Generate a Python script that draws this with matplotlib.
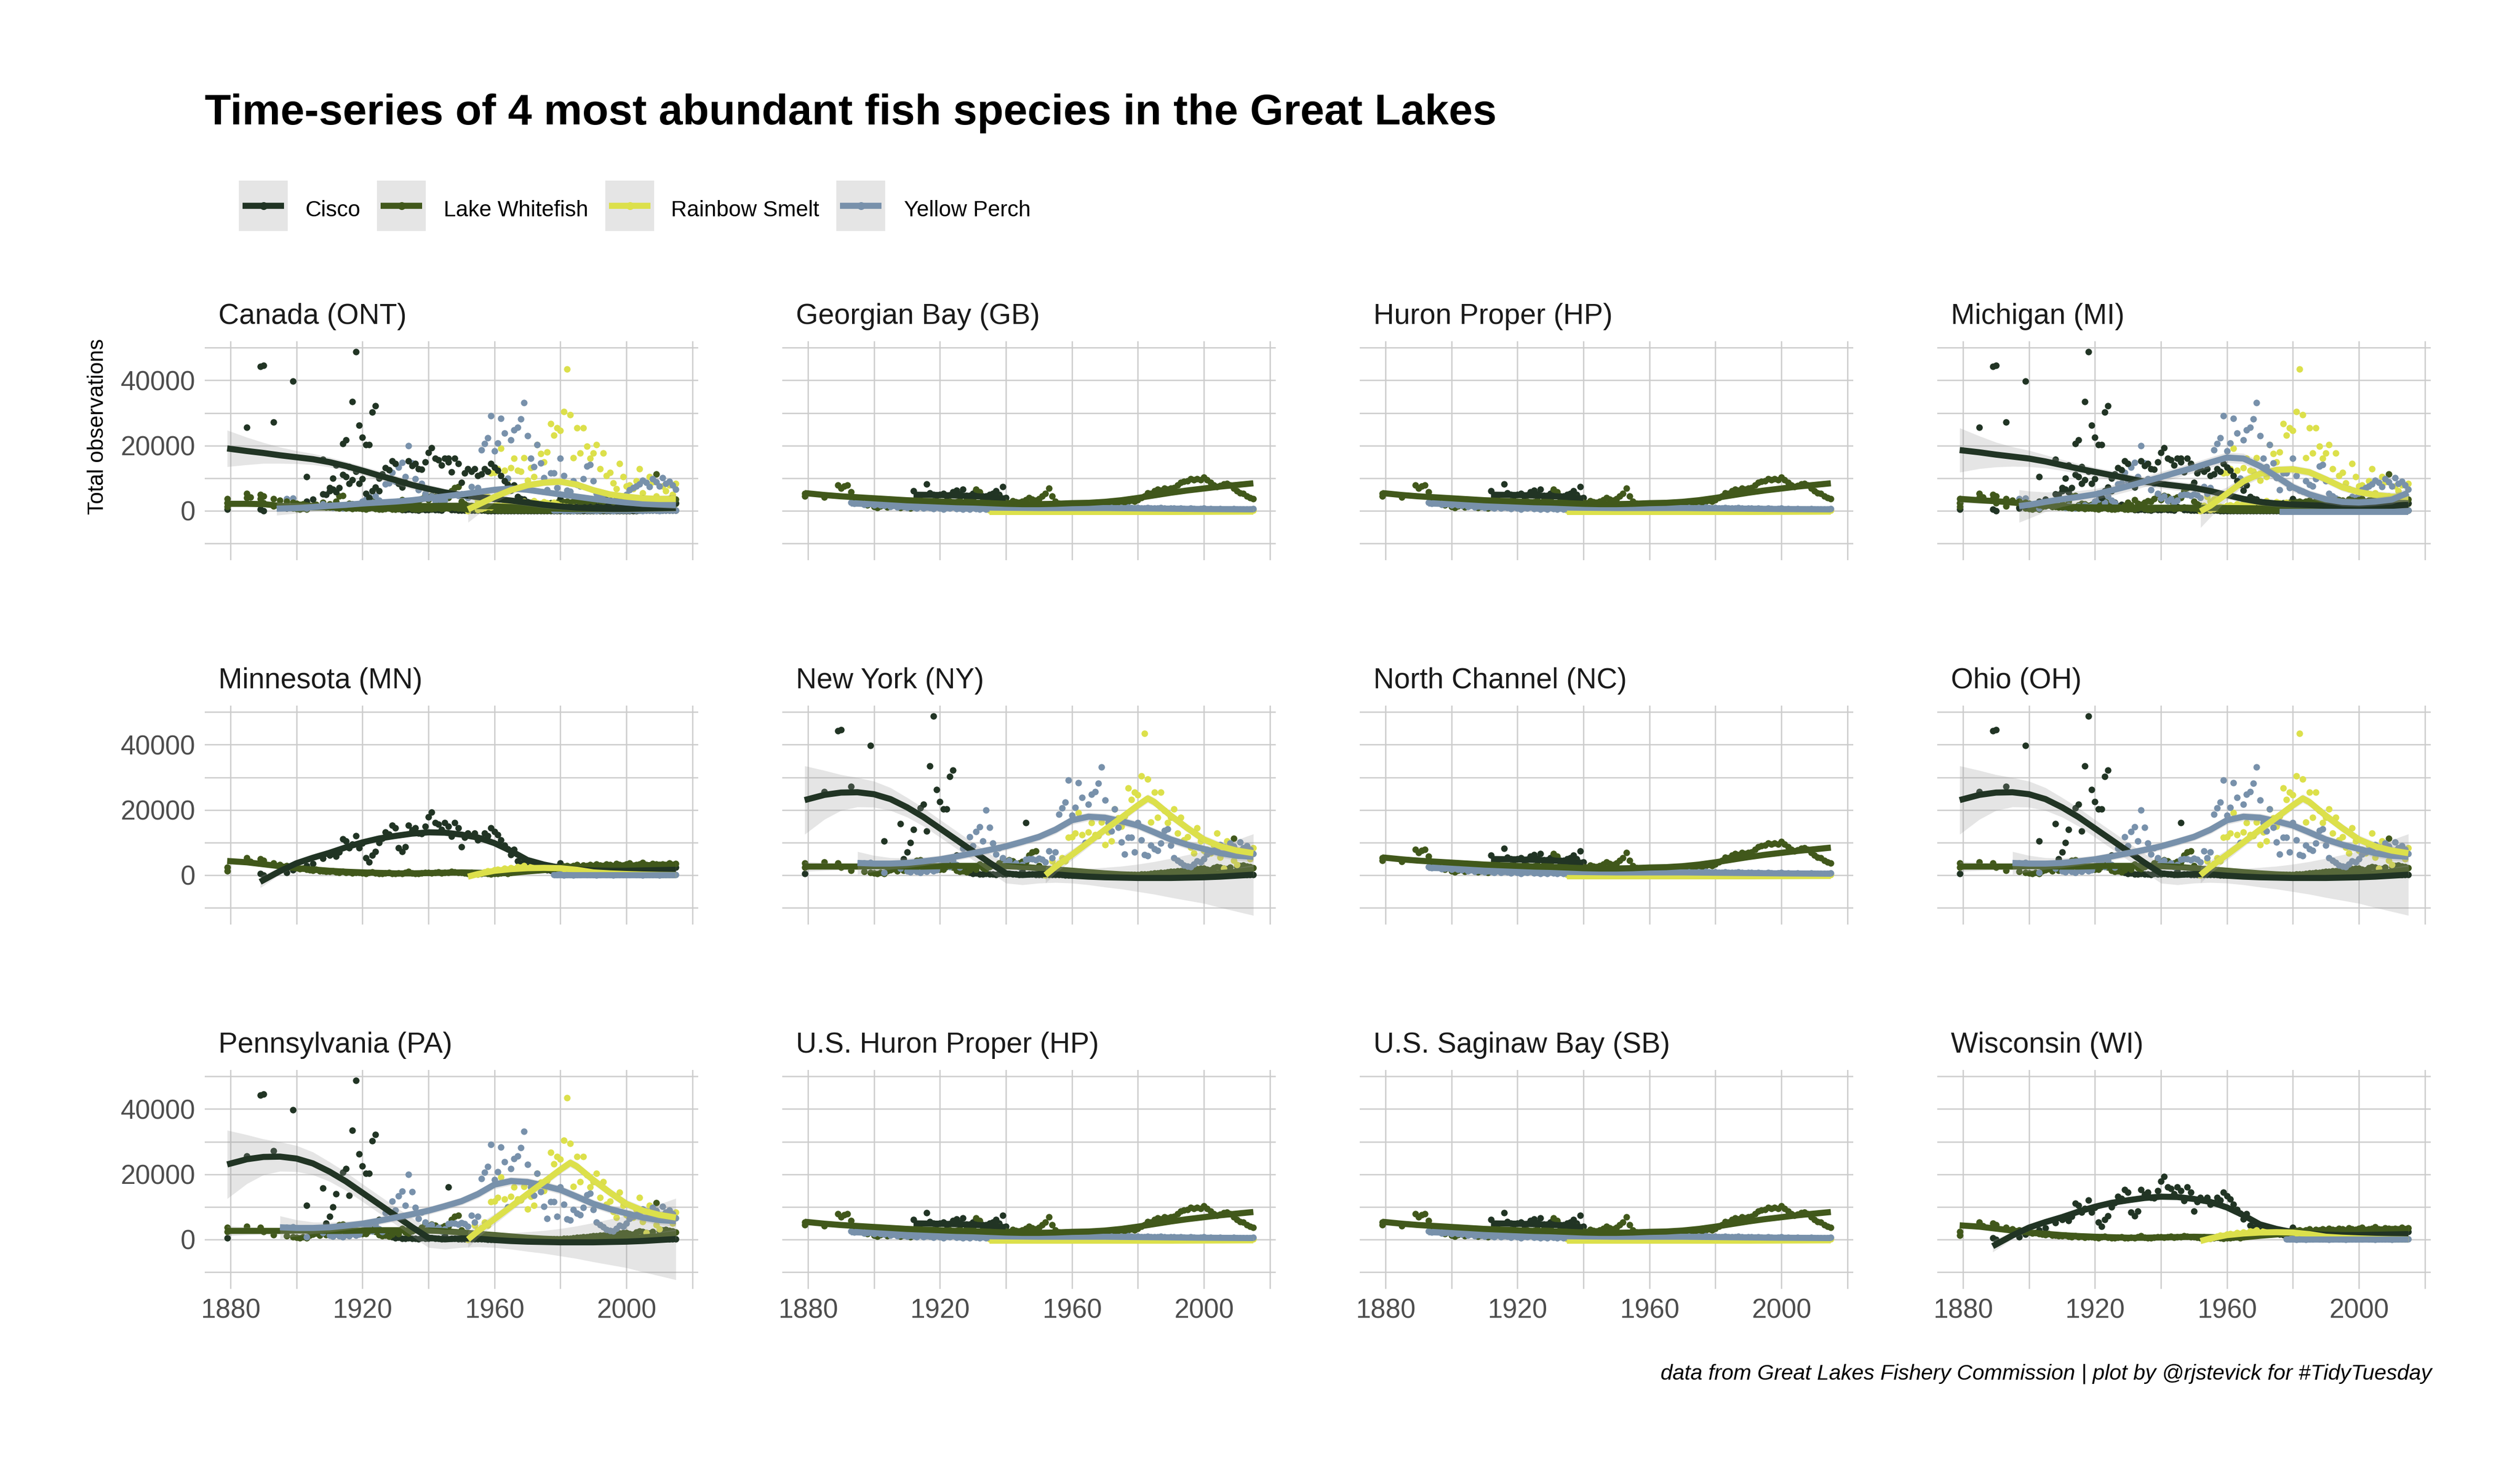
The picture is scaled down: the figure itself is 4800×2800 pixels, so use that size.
import numpy as np
import matplotlib
matplotlib.use('Agg')
import matplotlib.pyplot as plt
from matplotlib import font_manager
from matplotlib.lines import Line2D
from matplotlib.patches import Rectangle

# fonts: an Arial-like face, sized to the widths of the original narrow font
_names = {f.name for f in font_manager.fontManager.ttflist}
if 'Liberation Sans Narrow' in _names:
    FONT, K = 'Liberation Sans Narrow', 1.0
elif 'Liberation Sans' in _names:
    FONT, K = 'Liberation Sans', 0.82
else:
    FONT, K = 'DejaVu Sans', 0.77
plt.rcParams['font.family'] = [FONT, 'DejaVu Sans']

SPECIES = ['Cisco', 'Lake Whitefish', 'Rainbow Smelt', 'Yellow Perch']
COLORS = ['#213424', '#41581b', '#dce04b', '#7891ab']
REGIONS = ['Canada (ONT)', 'Georgian Bay (GB)', 'Huron Proper (HP)', 'Michigan (MI)',
           'Minnesota (MN)', 'New York (NY)', 'North Channel (NC)', 'Ohio (OH)',
           'Pennsylvania (PA)', 'U.S. Huron Proper (HP)', 'U.S. Saginaw Bay (SB)', 'Wisconsin (WI)']

# ---------------- observed points ----------------
# Lake Erie waters (NY, OH, PA)
ERIE_CISCO_YEARS = [1879, 1885, 1889, 1890, 1893, 1899, 1903, 1908, 1909, 1910, 1911, 1912, 1914,
                    1915, 1916, 1917, 1918, 1919, 1920, 1921, 1922, 1923, 1924, 1925] + list(range(1926, 2016))
ERIE_CISCO = [500, 25500, 44300, 44600, 27200, 39700, 10400, 15800, 4900, 7000, 9900, 13900, 20600,
              21700, 13500, 33500, 48800, 26200, 22500, 20300, 20300, 30200, 32100, 6000,
              2600, 1400, 1900, 700, 400, 600, 300, 200, 500, 300,
              200, 150, 400, 300, 200, 500, 300, 200, 100, 1200,
              16100, 300, 200, 100, 100, 80, 60, 50, 50, 40,
              30, 30, 20, 20, 20, 10, 10, 10, 10, 10,
              10, 10, 10, 10, 10, 10, 10, 10, 10, 10,
              10, 10, 10, 10, 10, 10, 10, 10, 10, 10,
              10, 10, 10, 10, 10, 10, 10, 10, 10, 10,
              10, 10, 10, 10, 10, 20, 20, 20, 30, 30,
              40, 50, 60, 80, 100, 140, 120, 90, 60, 50]
ERIE_WHITEFISH_YEARS = [1879, 1879, 1885, 1889, 1890, 1893, 1897, 1899] + list(range(1900, 2016))
ERIE_WHITEFISH = [3600, 2300, 3900, 3700, 2400, 1400, 1000, 800,
                  600, 450, 800, 400, 1200, 1500, 1900, 1300, 2500, 1400,
                  2000, 1600, 2800, 4500, 4600, 1800, 2200, 2100, 1500, 1900,
                  1700, 1800, 2600, 3200, 2400, 1400, 1000, 1300, 900, 1500,
                  2500, 1800, 3400, 2200, 1900, 2500, 3000, 2800, 3600, 4900,
                  3300, 4600, 4300, 3000, 3700, 4200, 3900, 6000, 7100, 7400,
                  2800, 2000, 1600, 1200, 900, 700, 500, 420, 300, 280,
                  220, 160, 140, 110, 100, 90, 80, 75, 60, 60,
                  50, 50, 40, 45, 40, 50, 60, 80, 95, 120,
                  150, 210, 240, 320, 380, 520, 580, 690, 820, 900,
                  1050, 1080, 1250, 1300, 1420, 1500, 1650, 1700, 1850, 2000,
                  2100, 1800, 1600, 2200, 2500, 2300, 2000, 1900, 2400, 11200,
                  2600, 2800, 3000, 2700, 2500, 2200]
ERIE_SMELT_YEARS = list(range(1952, 2016))
ERIE_SMELT = [0, 1500, 4300, 2800, 3500, 5200, 4300, 11500, 11700, 12900,
              19200, 12300, 9600, 13100, 16000, 12300, 12000, 16300, 9300, 13100,
              10400, 20300, 17500, 15000, 18000, 26700, 23200, 25400, 24600, 30400,
              43500, 29500, 16300, 25400, 17600, 25400, 19800, 16000, 17600, 20300,
              12800, 17600, 10700, 11700, 8500, 6700, 14400, 10400, 7500, 7800,
              6700, 9200, 12800, 5400, 2100, 10400, 8800, 4500, 3200, 7500,
              6000, 7800, 5000, 8300]
ERIE_PERCH_YEARS = [1897, 1899, 1903, 1908] + list(range(1910, 2016))
ERIE_PERCH = [3600, 3800, 700, 2000,
              1200, 900, 1500, 1100, 800, 1400, 1000, 1700, 1200, 1500,
              2800, 3500, 4300, 2600, 4500, 3200, 2400, 8200, 8500, 11700,
              9000, 13300, 14700, 10500, 19900, 14600, 9800, 6400, 8300, 5200,
              3800, 4500, 3000, 3600, 2500, 3100, 4800, 5000, 4900, 4600,
              5100, 4800, 3900, 7300, 5200, 7100, 18700, 20600, 22400, 29100,
              18300, 20800, 28300, 23800, 9900, 21700, 24800, 25600, 28200, 33100,
              23000, 16000, 13500, 20200, 14600, 10100, 6400, 11500, 11600, 7000,
              16000, 10700, 6300, 5900, 9100, 8000, 7500, 9800, 13600, 14100,
              9100, 5300, 4400, 3800, 3000, 2700, 2500, 3400, 4300, 3900,
              5000, 6400, 7000, 7600, 8200, 9300, 8600, 7400, 9800, 8800,
              7600, 10100, 8300, 9000, 7800, 6600]

# Lake Superior waters (MN, WI)
SUP_CISCO_YEARS = [1889, 1890, 1897, 1899, 1903, 1905, 1908] + list(range(1910, 2016))
SUP_CISCO = [500, 0, 800, 1500, 2800, 3500, 5100,
             6000, 6500, 5800, 7000, 11000, 10400, 8300, 9500, 12000, 8300,
             9800, 5300, 4000, 6100, 7200, 9900, 11200, 13100, 12500, 15200,
             14400, 8300, 7200, 8600, 15200, 13800, 14400, 12900, 12600, 15000,
             17900, 19300, 16000, 15500, 14000, 16000, 15000, 11800, 16000, 14400,
             8600, 11500, 12800, 12000, 12800, 10700, 11200, 12800, 12000, 14400,
             13400, 12300, 10700, 9100, 8000, 6200, 7800, 4300, 3600, 3500,
             2700, 2500, 2300, 2000, 1800, 1700, 1500, 1400, 1300, 2000,
             3700, 1200, 1300, 1400, 1500, 1300, 1200, 1400, 1300, 1500,
             1600, 1400, 1500, 1700, 1600, 1500, 1400, 1600, 1800, 1700,
             1500, 1800, 1600, 2000, 1900, 1700, 1600, 2100, 2200, 1900,
             1800, 2000, 2300, 2100, 1800, 2400]
SUP_WHITEFISH_YEARS = [1879, 1879, 1885, 1886, 1889, 1890, 1893, 1895, 1897, 1899] + list(range(1900, 2016))
SUP_WHITEFISH = [2400, 1200, 5300, 4200, 5000, 4500, 3600, 3200, 2800, 2500,
                 2200, 1900, 2100, 1700, 1600, 1400, 1800, 1300, 1200, 1100,
                 1000, 1300, 900, 800, 1100, 700, 900, 600, 800, 700,
                 600, 500, 700, 900, 600, 400, 500, 600, 700, 500,
                 400, 600, 500, 700, 1000, 600, 500, 400, 600, 700,
                 800, 600, 700, 900, 600, 800, 700, 1100, 900, 800,
                 700, 600, 500, 700, 400, 300, 500, 600, 400, 300,
                 400, 500, 600, 700, 500, 800, 900, 1000, 1300, 1200,
                 1400, 1600, 1500, 1800, 2000, 1900, 2200, 2400, 2100, 2500,
                 2300, 2700, 2900, 2500, 2800, 3100, 2600, 3000, 2800, 3200,
                 2900, 3300, 3000, 2800, 3400, 3100, 2700, 3500, 3200, 3000,
                 3300, 3600, 2900, 3100, 3400, 3800, 3200, 3000, 3500, 3300,
                 3100, 3400, 3000, 3600, 3200, 3500]
SUP_SMELT_YEARS = list(range(1955, 1996))
SUP_SMELT = [300, 600, 900, 1200, 1000, 1500, 1800, 1400, 2000, 1700,
             2200, 1900, 2500, 2300, 2800, 2100, 2600, 3000, 2400, 2200,
             2700, 2300, 1900, 2500, 2000, 1600, 1400, 1200, 900, 1000,
             800, 600, 700, 500, 400, 500, 300, 400, 200, 300,
             200]
SUP_PERCH_YEARS = list(range(1978, 2016))
SUP_PERCH = [100, 50, 200, 0, 100, 150, 0, 50, 100, 200,
             150, 100, 50, 0, 100, 200, 100, 50, 0, 100,
             150, 100, 50, 100, 200, 100, 50, 0, 100, 150,
             50, 100, 0, 50, 100, 150, 100, 50]

# Lake Huron waters (GB, HP, NC, US HP, SB)
HUR_CISCO_YEARS = [1912, 1914] + list(range(1916, 1941))
HUR_CISCO = [6000, 4800, 8100, 5500, 5000, 4600, 4900, 5200, 4500, 4800,
             5700, 6300, 5100, 6500, 4600, 4700, 5200, 6300, 4800, 4400,
             4500, 5000, 5300, 6000, 5000, 7300, 4000]
HUR_WHITEFISH_YEARS = [1879, 1879, 1885, 1889, 1890, 1891, 1892, 1893, 1894, 1896, 1898] + list(range(1900, 2016))
HUR_WHITEFISH = [4400, 5300, 4100, 7900, 6900, 7600, 7900, 5700, 3900, 2500, 1700,
                 1200, 900, 1400, 1800, 1100, 1600, 2000, 1500, 900, 1300,
                 1700, 800, 1200, 1500, 2200, 1800, 1400, 2600, 2200, 1900,
                 2300, 2000, 2600, 2900, 2400, 2700, 3100, 2500, 3300, 3000,
                 3500, 6500, 5800, 3200, 4100, 3600, 2800, 3400, 3900, 3000,
                 2600, 2300, 3000, 2700, 2500, 2900, 3300, 3900, 3500, 3100,
                 3600, 4400, 5300, 6800, 4400, 2800, 2200, 2000, 1900, 2100,
                 1800, 1700, 1900, 2000, 1800, 1600, 1900, 2100, 2300, 2200,
                 2400, 2300, 2600, 2500, 2700, 2900, 2600, 2800, 3100, 2800,
                 3300, 3900, 4500, 5500, 5200, 6000, 6500, 6300, 6800, 6600,
                 6900, 7100, 7900, 8700, 8900, 9200, 9700, 9500, 9700, 9500,
                 10300, 9500, 8700, 7900, 7300, 7700, 8100, 8300, 7900, 6800,
                 6000, 5500, 5200, 4400, 4000, 3600]
HUR_SMELT_YEARS = list(range(1935, 2016, 2))
HUR_SMELT = [100, 0, 200, 100, 0, 150, 100, 50, 200, 100,
             0, 100, 150, 50, 100, 0, 200, 100, 50, 100,
             150, 0, 100, 50, 200, 100, 0, 150, 100, 50,
             100, 0, 150, 100, 50, 200, 100, 0, 100, 50,
             100]
HUR_PERCH_YEARS = list(range(1893, 2016))
HUR_PERCH = [2600, 2200, 2800, 2400, 1900, 2100, 2500, 1800, 2200, 1700,
             1500, 1900, 1300, 1600, 1100, 1400, 1200, 900, 1300, 1000,
             800, 1200, 700, 1000, 900, 600, 1100, 800, 500, 900,
             700, 1000, 600, 800, 500, 700, 400, 900, 600, 500,
             700, 400, 600, 800, 500, 900, 700, 600, 800, 1000,
             900, 700, 800, 1000, 900, 800, 1100, 900, 1000, 800,
             900, 1000, 1100, 900, 800, 1000, 900, 800, 700, 900,
             800, 900, 1000, 700, 800, 900, 1000, 800, 700, 900,
             800, 700, 900, 800, 1000, 900, 800, 900, 700, 800,
             900, 800, 700, 800, 900, 700, 600, 800, 700, 600,
             700, 600, 500, 700, 600, 500, 600, 700, 500, 600,
             500, 400, 600, 500, 400, 500, 600, 400, 500, 400,
             500, 400, 600]

# ---------------- smoothed trends (value, half-width of band) ----------------
SY = [1879, 1885, 1890, 1895, 1900, 1905, 1910, 1915, 1920, 1925, 1930, 1935, 1940, 1945,
      1950, 1955, 1960, 1965, 1970, 1975, 1980, 1985, 1990, 1995, 2000, 2005, 2010, 2015]
SMELT_SY = [1952, 1955, 1960, 1965, 1970, 1975, 1980, 1985, 1990, 1995, 2000, 2005, 2010, 2015]

CAN_CISCO = [19100, 18300, 17700, 17000, 16400, 15800, 14900, 13700, 12300, 10800, 9400, 7900, 6700, 5600,
             4800, 4200, 3600, 3100, 2500, 1800, 1300, 900, 700, 600, 600, 700, 800, 900]
CAN_CISCO_SE = [5600, 4200, 3200, 2500, 2000, 1700, 1500, 1400, 1400, 1400, 1400, 1400, 1300, 1200,
                1100, 1000, 1000, 1000, 1000, 1000, 1000, 1000, 1000, 1000, 1000, 1100, 1200, 1400]
CAN_WHITEFISH = [2100, 2100, 2000, 1500, 1100, 1000, 1000, 1100, 1200, 1300, 1300, 1400, 1400, 1500,
                 1500, 1400, 1300, 1100, 900, 700, 600, 500, 500, 500, 500, 600, 700, 800]
CAN_WHITEFISH_SE = [900, 800, 700, 600, 600, 600, 600, 600, 600, 600, 600, 600, 600, 600,
                    600, 600, 600, 600, 600, 600, 600, 600, 600, 600, 600, 600, 700, 800]
CAN_PERCH_YEARS = [1894] + SY[4:]
CAN_PERCH = [600, 800, 1100, 1500, 1800, 2200, 2500, 2800, 3200, 3800, 4400, 5000, 5700,
             6400, 6800, 6400, 5700, 5000, 4300, 3600, 3000, 2500, 2100, 1900, 1700]
CAN_PERCH_SE = [2000, 1600, 1200, 1000, 900, 800, 800, 800, 800, 800, 800, 800, 800,
                800, 800, 800, 800, 800, 800, 800, 800, 800, 900, 1000, 1100]
CAN_SMELT = [400, 1800, 4200, 6300, 7800, 8600, 8900, 8000, 6300, 5000, 4300, 3800, 3600, 3600]
CAN_SMELT_SE = [4000, 3000, 1800, 1300, 1100, 1000, 1000, 1000, 1000, 1000, 1000, 1000, 1100, 1300]

MI_CISCO = [18600, 17900, 17200, 16600, 16000, 15100, 14000, 12900, 11900, 10900, 9900, 8900, 8200, 7600,
            7000, 6000, 4800, 3600, 2700, 2200, 1900, 1700, 1500, 1400, 1300, 1300, 1500, 1800]
MI_CISCO_SE = [6800, 5000, 3800, 3000, 2500, 2000, 1700, 1500, 1400, 1400, 1400, 1400, 1400, 1400,
               1400, 1300, 1200, 1100, 1000, 1000, 1000, 1000, 1000, 1000, 1000, 1100, 1300, 1500]
MI_WHITEFISH = [3600, 3200, 2900, 2500, 2000, 1600, 1300, 1100, 1000, 950, 900, 900, 900, 900,
                900, 850, 800, 750, 700, 750, 800, 1000, 1200, 1500, 1800, 2200, 2600, 3000]
MI_WHITEFISH_SE = [1200, 1000, 800, 700, 600, 600, 600, 600, 600, 600, 600, 600, 600, 600,
                   600, 600, 600, 600, 600, 600, 600, 600, 600, 600, 700, 800, 900, 1100]
MI_PERCH_YEARS = [1897] + SY[4:]
MI_PERCH = [1400, 1800, 2700, 3500, 4200, 5000, 6200, 7500, 8900, 10300, 11800, 13200, 14800,
            16300, 16000, 13700, 10500, 7200, 5000, 3500, 2700, 2500, 2800, 3400, 5500]
MI_PERCH_SE = [5000, 4200, 3000, 2300, 1900, 1700, 1600, 1600, 1600, 1600, 1600, 1600, 1600,
               1600, 1600, 1600, 1500, 1400, 1300, 1300, 1300, 1300, 1300, 1400, 1800]
MI_SMELT = [-200, 1500, 5200, 9000, 11300, 12500, 12700, 11800, 9600, 7200, 5700, 4800, 4300, 4200]
MI_SMELT_SE = [5000, 3500, 2000, 1500, 1300, 1200, 1200, 1200, 1200, 1200, 1200, 1200, 1300, 1500]
MI_PERCH_FLAT_YEARS = [1976, 1990, 2000, 2015]
MI_PERCH_FLAT = [-300, -300, -300, -300]
MI_PERCH_FLAT_SE = [900, 600, 600, 900]

ERIE_CISCO_S = [23000, 24600, 25300, 25400, 24800, 23300, 20800, 17800, 14300, 10800, 7300, 3800, 500, 0,
                300, 200, -200, -500, -700, -800, -900, -900, -900, -800, -700, -500, -200, 100]
ERIE_CISCO_SE = [10500, 7500, 5500, 4500, 4000, 3500, 3000, 2800, 2700, 2700, 2700, 2800, 3000, 3000,
                 2800, 2500, 2300, 2500, 3000, 3500, 4200, 5000, 6000, 7000, 8000, 9500, 11000, 12500]
ERIE_WHITEFISH_S = [2600, 2600, 2600, 2600, 2700, 2700, 2600, 2600, 2700, 2800, 2800, 2800, 2700, 2500,
                    2100, 1700, 1300, 900, 500, 200, 0, -100, 0, 100, 300, 600, 1000, 1600]
ERIE_WHITEFISH_SE = [1500, 1200, 1000, 900, 800, 800, 800, 800, 800, 800, 800, 800, 800, 800,
                     800, 800, 800, 800, 800, 800, 800, 800, 800, 800, 900, 1000, 1200, 1500]
ERIE_PERCH_S_YEARS = [1895] + SY[4:]
ERIE_PERCH_S = [3700, 3500, 3500, 3700, 4200, 4800, 5700, 6700, 7700, 8800, 10200, 11700, 13900,
                16800, 17900, 17600, 16500, 15200, 13100, 10900, 9300, 8000, 6700, 5900, 5600]
ERIE_PERCH_SE = [3500, 2500, 1800, 1500, 1300, 1200, 1200, 1200, 1200, 1200, 1200, 1200, 1300,
                 1300, 1300, 1300, 1300, 1300, 1300, 1300, 1300, 1300, 1300, 1400, 1600]
ERIE_SMELT_S_YEARS = [1952, 1955, 1960, 1965, 1970, 1975, 1980, 1983, 1985, 1990, 1995, 2000, 2005, 2010, 2015]
ERIE_SMELT_S = [0, 2500, 6200, 10000, 13900, 17600, 21400, 23500, 22400, 18200, 14400, 10900, 8800, 7500, 6700]
ERIE_SMELT_SE = [2500, 2000, 1600, 1400, 1300, 1300, 1300, 1300, 1300, 1300, 1300, 1300, 1300, 1400, 1600]

SUP_CISCO_S_YEARS = [1889, 1895] + SY[4:]
SUP_CISCO_S = [-2100, 1200, 3600, 5300, 6800, 8500, 10000, 11200, 12000, 12700, 13100, 13000, 12400,
               11500, 9800, 7400, 4600, 3200, 2200, 1700, 1400, 1300, 1300, 1400, 1500, 1600]
SUP_CISCO_SE = [1800, 1100, 900, 800, 700, 700, 700, 700, 700, 700, 700, 700, 700,
                700, 700, 700, 700, 700, 700, 700, 700, 700, 700, 700, 700, 900]
SUP_WHITEFISH_S = [4300, 3900, 3300, 2700, 2100, 1700, 1300, 1000, 800, 650, 500, 500, 600, 700,
                   800, 700, 500, 600, 1100, 1500, 2100, 2400, 2700, 2800, 2900, 3000, 3100, 3200]
SUP_WHITEFISH_SE = [900, 700, 600, 500, 500, 500, 500, 500, 500, 500, 500, 500, 500, 500,
                    500, 500, 500, 500, 500, 500, 500, 500, 500, 500, 500, 500, 600, 700]
SUP_SMELT_S = [-500, 300, 1300, 1800, 2100, 2200, 2100, 1600, 800, 500, 300, 150, 50, 0]
SUP_SMELT_SE = [900, 700, 500, 500, 500, 500, 500, 500, 500, 500, 500, 500, 500, 600]
SUP_PERCH_S_YEARS = [1978, 1990, 2000, 2015]
SUP_PERCH_S = [0, 0, 0, 0]
SUP_PERCH_SE = [300, 200, 200, 300]

HUR_WHITEFISH_S = [5400, 4800, 4400, 4100, 3800, 3500, 3200, 3000, 2800, 2600, 2500, 2300, 2100, 2000,
                   2000, 2100, 2300, 2400, 2700, 3200, 3900, 4700, 5500, 6200, 6800, 7400, 7900, 8400]
HUR_WHITEFISH_SE = [900, 700, 600, 500, 500, 500, 500, 500, 500, 500, 500, 500, 500, 500,
                    500, 500, 500, 500, 500, 500, 500, 500, 500, 500, 500, 600, 700, 800]
HUR_CISCO_S_YEARS = [1912, 1920, 1930, 1935, 1940]
HUR_CISCO_S = [4900, 4800, 4500, 4200, 3700]
HUR_CISCO_SE = [700, 500, 500, 500, 700]
HUR_PERCH_S_YEARS = [1893, 1900, 1910, 1920, 1930, 1940, 1950, 1960, 1970, 1980, 1990, 2000, 2015]
HUR_PERCH_S = [2200, 2000, 1500, 1200, 1000, 900, 800, 800, 800, 700, 600, 500, 400]
HUR_PERCH_SE = [600, 400, 300, 300, 300, 300, 300, 300, 300, 300, 300, 300, 400]
HUR_SMELT_S_YEARS = [1935, 1960, 1990, 2015]
HUR_SMELT_S = [-400, -400, -400, -300]
HUR_SMELT_SE = [400, 300, 300, 400]

# ---------------- assemble ----------------
POINTS = {
    'erie': [(ERIE_CISCO_YEARS, ERIE_CISCO), (ERIE_WHITEFISH_YEARS, ERIE_WHITEFISH),
             (ERIE_SMELT_YEARS, ERIE_SMELT), (ERIE_PERCH_YEARS, ERIE_PERCH)],
    'superior': [(SUP_CISCO_YEARS, SUP_CISCO), (SUP_WHITEFISH_YEARS, SUP_WHITEFISH),
                 (SUP_SMELT_YEARS, SUP_SMELT), (SUP_PERCH_YEARS, SUP_PERCH)],
    'huron': [(HUR_CISCO_YEARS, HUR_CISCO), (HUR_WHITEFISH_YEARS, HUR_WHITEFISH),
              (HUR_SMELT_YEARS, HUR_SMELT), (HUR_PERCH_YEARS, HUR_PERCH)],
}
# species index: 0 cisco, 1 whitefish, 2 smelt, 3 perch
SMOOTHS = {
    'canada': [(1, SY, CAN_WHITEFISH, CAN_WHITEFISH_SE), (0, SY, CAN_CISCO, CAN_CISCO_SE),
               (3, CAN_PERCH_YEARS, CAN_PERCH, CAN_PERCH_SE), (2, SMELT_SY, CAN_SMELT, CAN_SMELT_SE)],
    'michigan': [(1, SY, MI_WHITEFISH, MI_WHITEFISH_SE), (0, SY, MI_CISCO, MI_CISCO_SE),
                 (3, MI_PERCH_FLAT_YEARS, MI_PERCH_FLAT, MI_PERCH_FLAT_SE),
                 (2, SMELT_SY, MI_SMELT, MI_SMELT_SE), (3, MI_PERCH_YEARS, MI_PERCH, MI_PERCH_SE)],
    'erie': [(1, SY, ERIE_WHITEFISH_S, ERIE_WHITEFISH_SE), (0, SY, ERIE_CISCO_S, ERIE_CISCO_SE),
             (3, ERIE_PERCH_S_YEARS, ERIE_PERCH_S, ERIE_PERCH_SE),
             (2, ERIE_SMELT_S_YEARS, ERIE_SMELT_S, ERIE_SMELT_SE)],
    'superior': [(1, SY, SUP_WHITEFISH_S, SUP_WHITEFISH_SE), (0, SUP_CISCO_S_YEARS, SUP_CISCO_S, SUP_CISCO_SE),
                 (2, SMELT_SY, SUP_SMELT_S, SUP_SMELT_SE), (3, SUP_PERCH_S_YEARS, SUP_PERCH_S, SUP_PERCH_SE)],
    'huron': [(0, HUR_CISCO_S_YEARS, HUR_CISCO_S, HUR_CISCO_SE), (2, HUR_SMELT_S_YEARS, HUR_SMELT_S, HUR_SMELT_SE),
              (3, HUR_PERCH_S_YEARS, HUR_PERCH_S, HUR_PERCH_SE), (1, SY, HUR_WHITEFISH_S, HUR_WHITEFISH_SE)],
}
PANEL_POINTS = {'Canada (ONT)': ['erie', 'superior'], 'Michigan (MI)': ['erie', 'superior'],
                'New York (NY)': ['erie'], 'Ohio (OH)': ['erie'], 'Pennsylvania (PA)': ['erie'],
                'Minnesota (MN)': ['superior'], 'Wisconsin (WI)': ['superior']}
PANEL_SMOOTH = {'Canada (ONT)': 'canada', 'Michigan (MI)': 'michigan',
                'New York (NY)': 'erie', 'Ohio (OH)': 'erie', 'Pennsylvania (PA)': 'erie',
                'Minnesota (MN)': 'superior', 'Wisconsin (WI)': 'superior'}

# ---------------- figure ----------------
W, H = 4800, 2800
fig = plt.figure(figsize=(16, 28 / 3), dpi=300)
fig.patch.set_facecolor('white')

COL_X = [390, 1490, 2590, 3690]
ROW_Y = [650, 1344, 2038]
PW, PH = 940, 417

for i, region in enumerate(REGIONS):
    r, c = divmod(i, 4)
    ax = fig.add_axes([COL_X[c] / W, 1 - (ROW_Y[r] + PH) / H, PW / W, PH / H])
    ax.set_xlim(1872.2, 2021.8)
    ax.set_ylim(-15200, 52000)
    ax.set_xticks([1880, 1920, 1960, 2000])
    ax.set_xticks([1900, 1940, 1980, 2020], minor=True)
    ax.set_yticks([0, 20000, 40000])
    ax.set_yticklabels(['0', '20000', '40000'])
    ax.set_yticks([-10000, 10000, 30000, 50000], minor=True)
    ax.grid(True, which='both', color='#cccccc', lw=0.6)
    ax.set_axisbelow(True)
    for s in ax.spines.values():
        s.set_visible(False)
    ax.tick_params(which='both', length=0, labelsize=15 * K, colors='#4d4d4d', pad=4.3,
                   labelbottom=(r == 2), labelleft=(c == 0))

    for grp in PANEL_POINTS.get(region, ['huron']):
        for k, (yrs, vals) in enumerate(POINTS[grp]):
            ax.scatter(yrs, vals, s=9, color=COLORS[k], linewidths=0, zorder=2)

    for k, yrs, vals, se in SMOOTHS[PANEL_SMOOTH.get(region, 'huron')]:
        y = np.array(vals, float)
        e = np.array(se, float)
        ax.fill_between(yrs, y - e, y + e, color='#999999', alpha=0.25, lw=0, zorder=3)
        ax.plot(yrs, y, color=COLORS[k], lw=2.8, solid_joinstyle='round',
                solid_capstyle='butt', zorder=3)

    ax.annotate(region, xy=(0, 1), xycoords='axes fraction', xytext=(26, 33),
                textcoords='offset pixels', ha='left', va='baseline',
                fontsize=16 * K, color='#1a1a1a')

# title
fig.text(390 / W, 1 - 237 / H, 'Time-series of 4 most abundant fish species in the Great Lakes',
         ha='left', va='baseline', fontsize=24 * K, fontweight='bold', color='black')

# legend
KEY_X = [455, 718, 1153, 1593]
TXT_X = [582, 845, 1278, 1722]
for k, name in enumerate(SPECIES):
    fig.add_artist(Rectangle((KEY_X[k] / W, 1 - 440 / H), 93 / W, 96 / H,
                             transform=fig.transFigure, facecolor='#e5e5e5', edgecolor='none'))
    fig.add_artist(Line2D([(KEY_X[k] + 7) / W, (KEY_X[k] + 86) / W], [1 - 392 / H, 1 - 392 / H],
                          transform=fig.transFigure, color=COLORS[k], lw=2.8,
                          solid_capstyle='butt'))
    fig.add_artist(Line2D([(KEY_X[k] + 46.5) / W], [1 - 392 / H], transform=fig.transFigure,
                          color=COLORS[k], marker='o', markersize=2.6, lw=0))
    fig.text(TXT_X[k] / W, 1 - 412 / H, name, ha='left', va='baseline',
             fontsize=12.3 * K, color='black')

# y axis title
fig.text(186 / W, 1 - 813 / H, 'Total observations', rotation=90, ha='center', va='center',
         fontsize=12.2 * K, color='black')

# caption
fig.text(4632 / W, 1 - 2628 / H,
         'data from Great Lakes Fishery Commission | plot by @rjstevick for #TidyTuesday',
         ha='right', va='baseline', fontsize=12 * K, style='italic', color='black')

fig.savefig('out.png', dpi=300, facecolor='white')
